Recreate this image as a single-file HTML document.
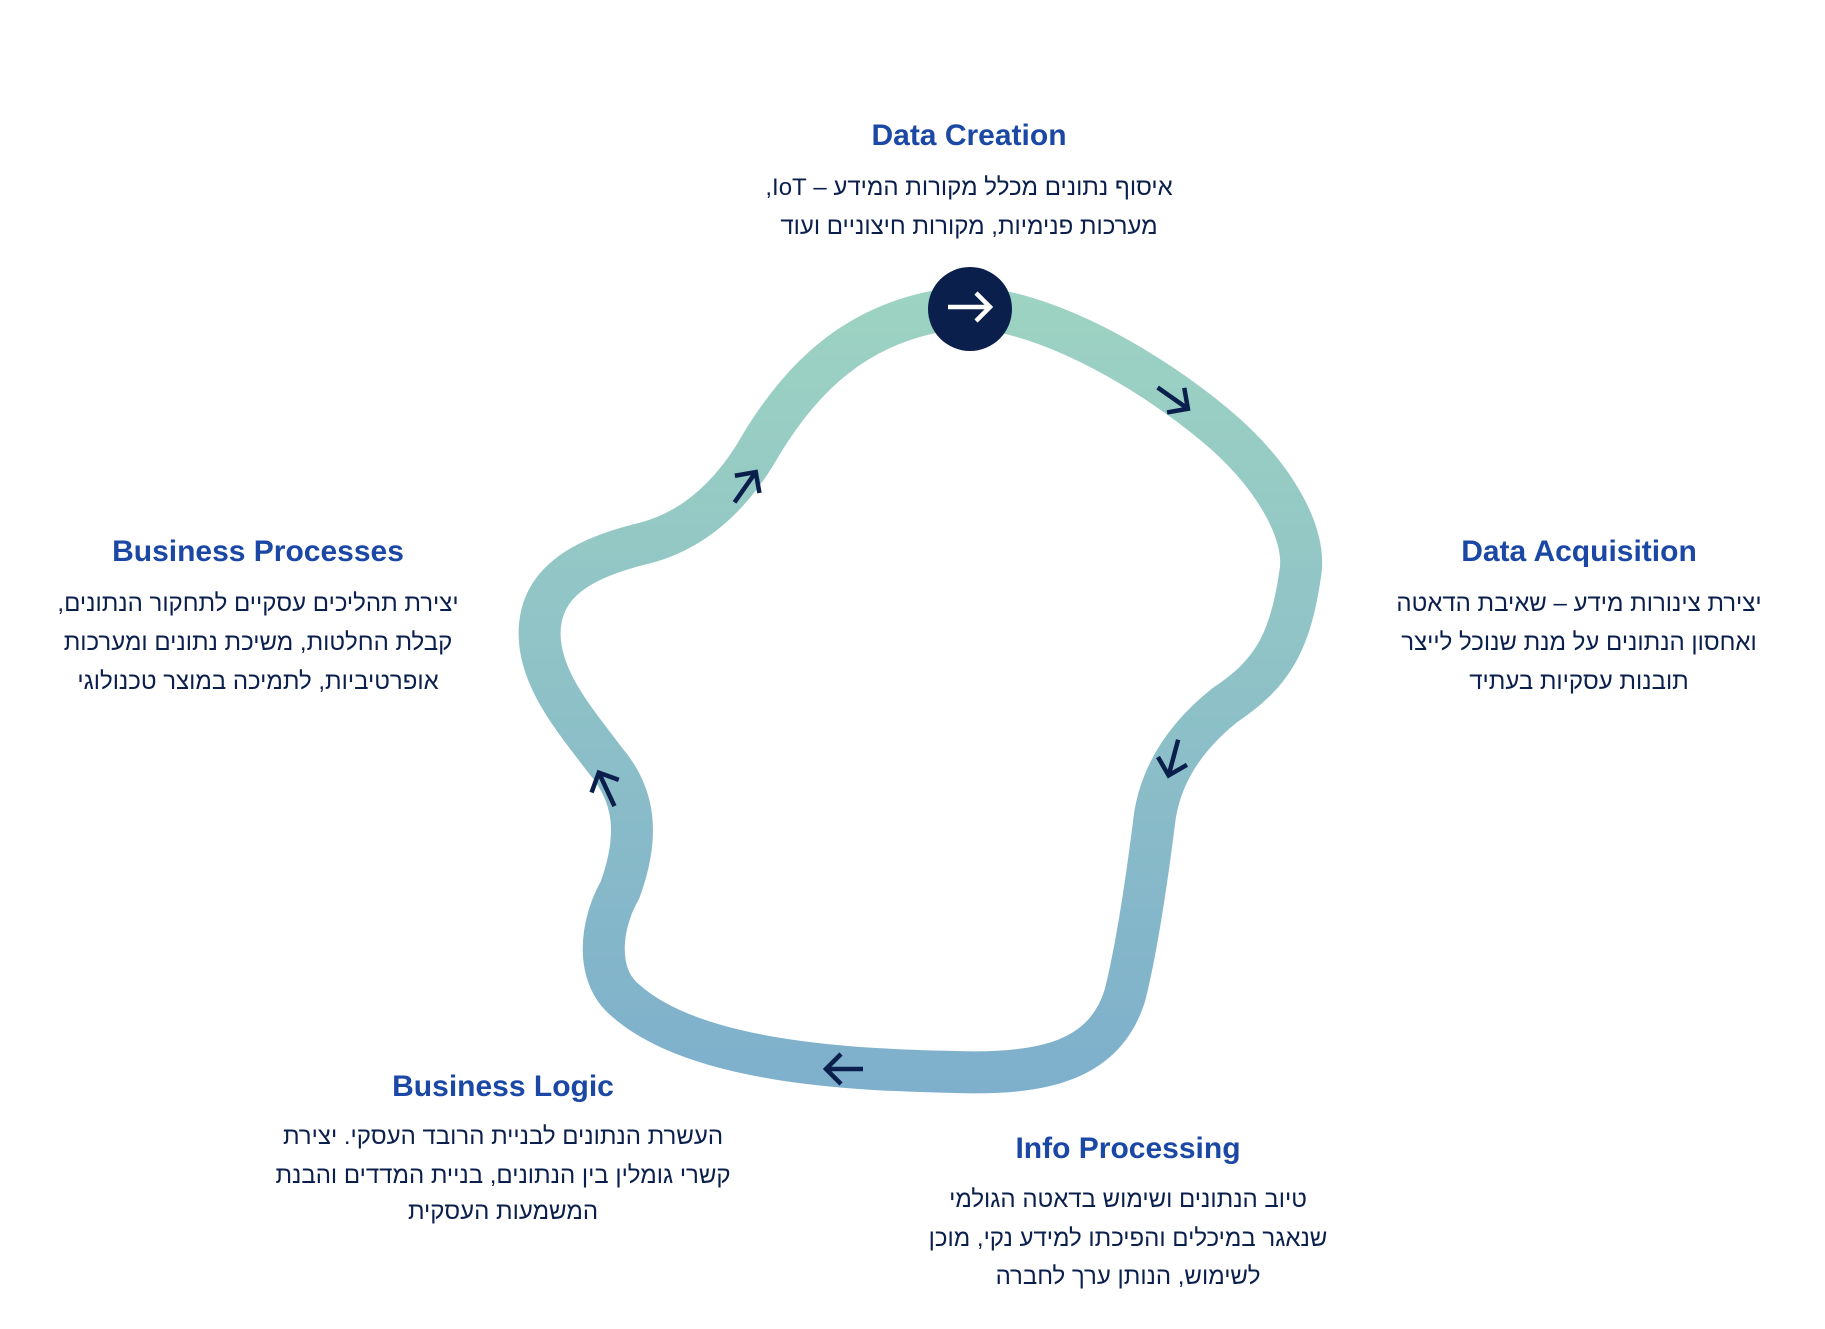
<!DOCTYPE html>
<html><head><meta charset="utf-8"><style>
html,body{margin:0;padding:0;background:#fff;}
svg{display:block}
.t{font-family:"Liberation Sans","DejaVu Sans",sans-serif;font-weight:bold;font-size:30px;fill:#1b48a5;text-anchor:middle;}
.b{font-family:"Liberation Sans","DejaVu Sans",sans-serif;font-size:24px;fill:#0b1f4d;text-anchor:middle;direction:rtl;unicode-bidi:plaintext;}
</style></head><body>
<svg width="1825" height="1329" viewBox="0 0 1825 1329" xmlns="http://www.w3.org/2000/svg">
<defs>
<linearGradient id="g" x1="0" y1="300" x2="0" y2="1100" gradientUnits="userSpaceOnUse">
<stop offset="0" stop-color="#9dd3c2"/><stop offset="1" stop-color="#7eafcc"/>
</linearGradient>
<g id="ar"><path d="M-20 0 H17 M2 -15 L17 0 L2 15" fill="none" stroke="#0b1f4d" stroke-width="4.5"/></g>
</defs>
<g transform="translate(-5,-5)">
<path d="M975 312 C1060 318,1160 380,1220 430 C1280 480,1313 540,1305 580 C1295 650,1275 680,1230 710 C1180 750,1165 790,1160 820 C1150 900,1140 960,1130 1000 C1110 1065,1050 1080,960 1077 C860 1075,700 1068,630 1005 C600 980,605 930,625 895 C645 840,640 800,610 765 C580 725,540 680,545 630 C550 580,600 560,650 548 C700 535,735 500,760 460 C800 390,860 320,975 312 Z" fill="none" stroke="url(#g)" stroke-width="42" stroke-linejoin="round"/>
<circle cx="975" cy="314" r="42" fill="#0b1f4d"/>
<path d="M953 312 H995 M981 298 L995 312 L981 326" fill="none" stroke="#fff" stroke-width="4.5"/>
<use href="#ar" transform="translate(1179,404) rotate(35)"/>
<use href="#ar" transform="translate(1178,764) rotate(105)"/>
<use href="#ar" transform="translate(848,1074) rotate(180)"/>
<use href="#ar" transform="translate(611,793) rotate(-115)"/>
<use href="#ar" transform="translate(751,491) rotate(-55)"/>
</g>

<text class="t" x="969" y="145">Data Creation</text>
<text class="b" x="969" y="195">איסוף נתונים מכלל מקורות המידע – IoT,</text>
<text class="b" x="969" y="234">מערכות פנימיות, מקורות חיצוניים ועוד</text>

<text class="t" x="1579" y="561">Data Acquisition</text>
<text class="b" x="1579" y="611">יצירת צינורות מידע – שאיבת הדאטה</text>
<text class="b" x="1579" y="650">ואחסון הנתונים על מנת שנוכל לייצר</text>
<text class="b" x="1579" y="689">תובנות עסקיות בעתיד</text>

<text class="t" x="258" y="561">Business Processes</text>
<text class="b" x="258" y="611">יצירת תהליכים עסקיים לתחקור הנתונים,</text>
<text class="b" x="258" y="650">קבלת החלטות, משיכת נתונים ומערכות</text>
<text class="b" x="258" y="689">אופרטיביות, לתמיכה במוצר טכנולוגי</text>

<text class="t" x="503" y="1096">Business Logic</text>
<text class="b" x="503" y="1144">העשרת הנתונים לבניית הרובד העסקי. יצירת</text>
<text class="b" x="503" y="1183">קשרי גומלין בין הנתונים, בניית המדדים והבנת</text>
<text class="b" x="503" y="1219">המשמעות העסקית</text>

<text class="t" x="1128" y="1158">Info Processing</text>
<text class="b" x="1128" y="1207">טיוב הנתונים ושימוש בדאטה הגולמי</text>
<text class="b" x="1128" y="1246">שנאגר במיכלים והפיכתו למידע נקי, מוכן</text>
<text class="b" x="1128" y="1284">לשימוש, הנותן ערך לחברה</text>
</svg>
</body></html>
